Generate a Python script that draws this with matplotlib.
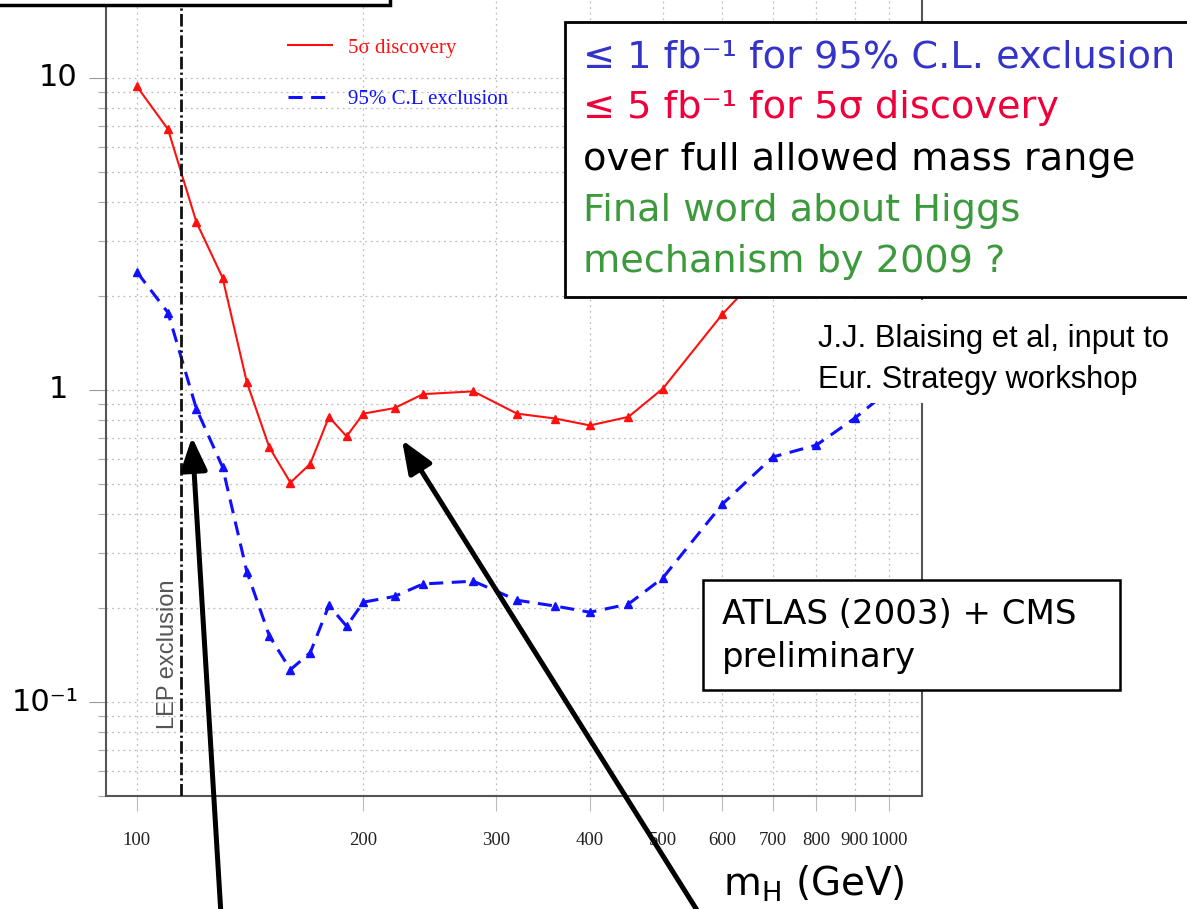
import matplotlib
matplotlib.use("Agg")
import matplotlib.pyplot as plt
from matplotlib.lines import Line2D
from matplotlib.patches import Rectangle, FancyArrowPatch
from matplotlib.ticker import FixedLocator, LogLocator, NullFormatter, NullLocator
import matplotlib.transforms as mtransforms

# Integrated luminosity (fb^-1) needed vs Higgs mass (GeV)
mass_disc = [100, 110, 120, 130, 140, 150, 160, 170, 180, 190, 200, 220, 240,
             280, 320, 360, 400, 450, 500, 600, 700]
lumi_disc = [9.4, 6.85, 3.45, 2.29, 1.06, 0.655, 0.505, 0.58, 0.82, 0.71, 0.84,
             0.875, 0.97, 0.99, 0.84, 0.81, 0.77, 0.82, 1.01, 1.75, 2.6]

mass_excl = [100, 110, 120, 130, 140, 150, 160, 170, 180, 190, 200, 220, 240,
             280, 320, 360, 400, 450, 500, 600, 700, 800, 900, 1000]
lumi_excl = [2.39, 1.77, 0.87, 0.566, 0.262, 0.163, 0.127, 0.144, 0.204, 0.175,
             0.209, 0.218, 0.239, 0.244, 0.212, 0.203, 0.194, 0.206, 0.25,
             0.431, 0.61, 0.666, 0.813, 1.0]

lep_limit = 114.4

xtick_values = [100, 200, 300, 400, 500, 600, 700, 800, 900, 1000]
xtick_labels = ["100", "200", "300", "400", "500", "600", "700", "800", "900", "1000"]
ytick_values = [10, 1, 0.1]
ytick_labels = ["10", "1", "10\u207b\u00b9"]

series_labels = ["5\u03c3 discovery", "95% C.L exclusion"]

box_lines = [
    ("\u2264 1 fb\u207b\u00b9 for 95% C.L. exclusion", "#3434c8"),
    ("\u2264 5 fb\u207b\u00b9 for 5\u03c3 discovery", "#f0003a"),
    ("over full allowed mass range", "black"),
    ("Final word about Higgs", "#3c9a3c"),
    ("mechanism by 2009 ?", "#3c9a3c"),
]

W, H = 1187, 909
fig = plt.figure(figsize=(W / 100, H / 100), dpi=100)


def fpos(x, y):
    """Pixel position (from top-left) to figure fraction."""
    return x / W, 1 - y / H


ax = fig.add_axes([106 / W, 1 - 796 / H, (922 - 106) / W, (796 + 16) / H])
ax.set_xscale("log")
ax.set_yscale("log")
ax.set_xlim(91, 1105)
ax.set_ylim(0.05, 20)

# ticks and grid
ax.xaxis.set_major_locator(FixedLocator(xtick_values))
ax.xaxis.set_minor_locator(NullLocator())
ax.set_xticklabels(xtick_labels, fontfamily="Liberation Serif", fontsize=13.5,
                   color="#222222")
ax.yaxis.set_major_locator(FixedLocator(ytick_values))
ax.yaxis.set_minor_locator(LogLocator(base=10, subs=range(2, 10)))
ax.yaxis.set_major_formatter(NullFormatter())
ax.yaxis.set_minor_formatter(NullFormatter())
ax.tick_params(axis="x", which="major", direction="out", length=11, width=0.8,
               color="#bbbbbb", pad=15)
ax.tick_params(axis="y", which="major", direction="out", length=12, width=0.8,
               color="#999999")
ax.tick_params(axis="y", which="minor", direction="out", length=6, width=0.8,
               color="#aaaaaa")
ax.grid(True, which="both", linestyle=(0, (1.5, 3)), color="#bdbdbd", linewidth=0.9)
ax.set_axisbelow(True)

for side in ("left", "bottom", "right"):
    ax.spines[side].set_color("#555555")
    ax.spines[side].set_linewidth(1.5)
ax.spines["top"].set_visible(False)

# y tick labels
ylab_tr = mtransforms.blended_transform_factory(fig.transFigure, ax.transData)
for val, lab in zip(ytick_values, ytick_labels):
    if val < 1:
        ax.text(79 / W, val, lab, transform=ylab_tr, ha="right", va="center",
                fontsize=22, fontfamily="DejaVu Sans")
    else:
        ax.text(58 / W, val, lab, transform=ylab_tr, ha="center", va="center",
                fontsize=22, fontfamily="DejaVu Sans")

# curves
ax.plot(mass_disc, lumi_disc, color="#ff1010", lw=1.5, marker="^", ms=6,
        mec="#ff1010", mfc="#ff1010", zorder=3)
ax.plot(mass_excl, lumi_excl, color="#1010ff", lw=2.2, dashes=(4.6, 2.8),
        marker="^", ms=6, mec="#1010ff", mfc="#1010ff", zorder=3)

# LEP exclusion limit
ax.axvline(lep_limit, color="#111111", lw=2.0, dashes=(4.5, 1.2, 0.8, 1.2), zorder=4)
ax.text(110, 0.142, "LEP exclusion", rotation=90, ha="center", va="center",
        fontsize=17, fontfamily="Liberation Sans", color="#555555")

# legend
handles = [
    Line2D([], [], color="#ff1010", lw=1.5),
    Line2D([], [], color="#1010ff", lw=2.2, dashes=(4.6, 2.8)),
]
leg = ax.legend(handles, series_labels, loc="upper left",
                bbox_to_anchor=fpos(288, 38), bbox_transform=fig.transFigure,
                frameon=False, prop={"family": "Liberation Serif", "size": 15},
                handlelength=2.1, handletextpad=0.77, labelspacing=1.53,
                borderpad=0, borderaxespad=0)
leg.get_texts()[0].set_color("#ff1010")
leg.get_texts()[1].set_color("#1010ff")

# x axis title
fig.text(*fpos(814, 884), "m$_\\mathregular{H}$ (GeV)", ha="center", va="center",
         fontsize=28, fontfamily="DejaVu Sans")

# cut-off frame at top left
fig.add_artist(Rectangle(fpos(-10, 5), 400 / W, 30 / H, transform=fig.transFigure,
                         fc="white", ec="black", lw=2.5, zorder=5))

# summary box
fig.add_artist(Rectangle(fpos(565, 297), 640 / W, 275 / H, transform=fig.transFigure,
                         fc="white", ec="black", lw=2.0, zorder=5))
for i, (txt, col) in enumerate(box_lines):
    fig.text(*fpos(583, 57 + i * 51.3), txt, ha="left", va="center", color=col,
             fontsize=27.5, fontfamily="DejaVu Sans", zorder=6)

# reference note
fig.add_artist(Rectangle(fpos(800, 403), 400 / W, 103 / H, transform=fig.transFigure,
                         fc="white", ec="none", zorder=5))
fig.text(*fpos(818, 339), "J.J. Blaising et al, input to", ha="left", va="center",
         fontsize=22.2, fontfamily="Liberation Sans", zorder=6)
fig.text(*fpos(818, 380), "Eur. Strategy workshop", ha="left", va="center",
         fontsize=22.2, fontfamily="Liberation Sans", zorder=6)

# source box
fig.add_artist(Rectangle(fpos(703, 690), 417 / W, 110 / H, transform=fig.transFigure,
                         fc="white", ec="black", lw=1.8, zorder=5))
fig.text(*fpos(722, 614), "ATLAS (2003) + CMS", ha="left", va="center",
         fontsize=24.5, fontfamily="DejaVu Sans", zorder=6)
fig.text(*fpos(722, 657), "preliminary", ha="left", va="center",
         fontsize=24.5, fontfamily="DejaVu Sans", zorder=6)

# pointer arrows
for tail, tip in [((221, 915), (192, 437)), ((700, 915), (402, 440))]:
    fig.add_artist(FancyArrowPatch(fpos(*tail), fpos(*tip), transform=fig.transFigure,
                                   arrowstyle="-|>,head_length=1.0,head_width=0.4",
                                   mutation_scale=20, lw=3.6, color="black",
                                   shrinkA=0, shrinkB=0, zorder=7))

fig.savefig("out.png", dpi=100)
